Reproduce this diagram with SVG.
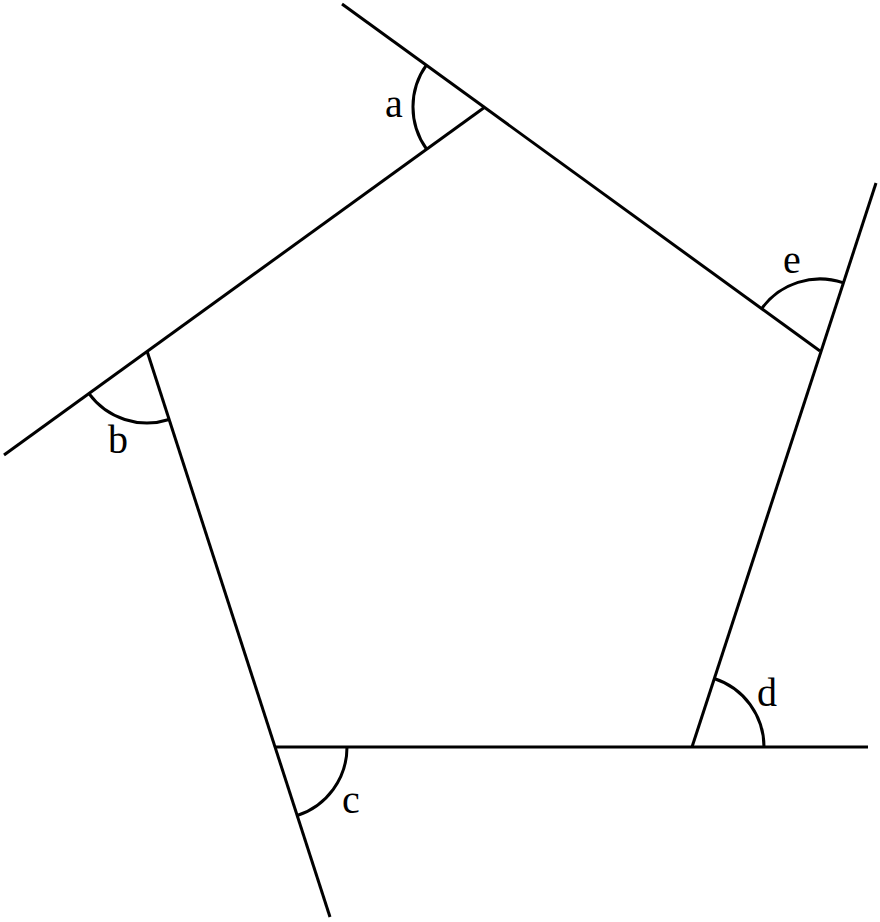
<svg xmlns="http://www.w3.org/2000/svg" width="880" height="922" viewBox="0 0 880 922">
<style>
.ln{stroke:#000;stroke-width:3;fill:none;stroke-linecap:butt}
.arc{stroke:#000;stroke-width:3;fill:none}
.lbl{font-family:'Liberation Serif','DejaVu Serif','Times New Roman',serif;font-size:40px;fill:#000;text-anchor:middle}
</style>
<rect width="880" height="922" fill="#fff"/>
<g id="connectors">
<line class="ln" x1="342" y1="4" x2="820" y2="351"/>
<line class="ln" x1="485" y1="107" x2="4" y2="455"/>
<line class="ln" x1="147" y1="351" x2="330" y2="917"/>
<line class="ln" x1="275" y1="747" x2="868" y2="747"/>
<line class="ln" x1="692" y1="747" x2="876" y2="183"/>
</g>
<g id="angle-a">
<path class="arc" d="M426.7,64.7 A72,72 0 0 0 426.5,149"/>
<text class="lbl" x="394" y="117" font-family="Liberation Serif, DejaVu Serif, serif">a</text>
</g>
<g id="angle-b">
<path class="arc" d="M88.8,393.4 A72,72 0 0 0 169.1,419.5"/>
<text class="lbl" x="118" y="453" font-family="Liberation Serif, DejaVu Serif, serif">b</text>
</g>
<g id="angle-c">
<path class="arc" d="M347,747 A72,72 0 0 1 297.2,815.5"/>
<text class="lbl" x="351" y="813" font-family="Liberation Serif, DejaVu Serif, serif">c</text>
</g>
<g id="angle-d">
<path class="arc" d="M764,747 A72,72 0 0 0 714.1,678.5"/>
<text class="lbl" x="767" y="706" font-family="Liberation Serif, DejaVu Serif, serif">d</text>
</g>
<g id="angle-e">
<path class="arc" d="M761.7,308.6 A72,72 0 0 1 842.8,282.7"/>
<text class="lbl" x="792" y="273" font-family="Liberation Serif, DejaVu Serif, serif">e</text>
</g>
</svg>
